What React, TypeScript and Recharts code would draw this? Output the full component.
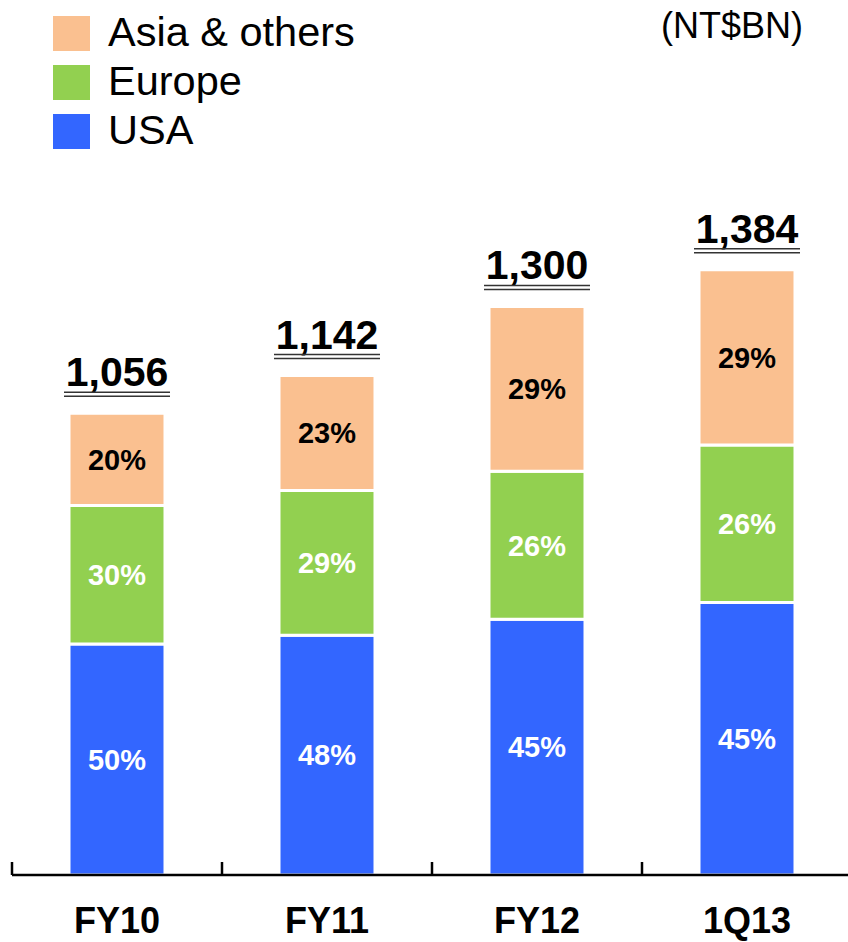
import { BarChart, Bar, XAxis, YAxis, LabelList } from "recharts";

const categories = ["FY10", "FY11", "FY12", "1Q13"];
const usaValues = [528, 548, 585, 623];
const europeValues = [317, 331, 338, 360];
const asiaValues = [211, 263, 377, 401];
const usaShares = ["50%", "48%", "45%", "45%"];
const europeShares = ["30%", "29%", "26%", "26%"];
const asiaShares = ["20%", "23%", "29%", "29%"];
const totalLabels = ["1,056", "1,142", "1,300", "1,384"];

const legendNames = ["Asia & others", "Europe", "USA"];
const legendColors = ["#FAC090", "#92D050", "#3366FF"];

const FONT = '"Liberation Sans", Arial, sans-serif';
const BAND = 210;

const data = categories.map((c, i) => ({
  name: c,
  usa: usaValues[i],
  europe: europeValues[i],
  asia: asiaValues[i],
  usaPct: usaShares[i],
  europePct: europeShares[i],
  asiaPct: asiaShares[i],
  total: totalLabels[i],
}));

const CategoryTick = ({ x, y, payload }: any) => (
  <g>
    <line x1={x - BAND / 2} x2={x - BAND / 2} y1={y - 13} y2={y} stroke="#000" strokeWidth={2.5} />
    <text x={x} y={y + 58} textAnchor="middle" fontFamily={FONT} fontSize={36} fontWeight={700} fill="#000">
      {payload.value}
    </text>
  </g>
);

const renderTotal = ({ x, y, width, value }: any) => {
  const cx = x + width / 2;
  return (
    <g>
      <text x={cx} y={y - 27} textAnchor="middle" fontFamily={FONT} fontSize={41} fontWeight={700} fill="#000">
        {value}
      </text>
      <line x1={cx - 53} x2={cx + 53} y1={y - 21} y2={y - 21} stroke="#333" strokeWidth={1.5} />
      <line x1={cx - 53} x2={cx + 53} y1={y - 17} y2={y - 17} stroke="#333" strokeWidth={1.5} />
    </g>
  );
};

const pctStyle = { fontFamily: FONT, fontSize: 29, fontWeight: 700 };

export default function App() {
  return (
    <div style={{ position: "absolute", left: 0, top: 0, width: 848, height: 942, overflow: "hidden", background: "#fff" }}>
      <div style={{ position: "absolute", left: 53, top: 9, fontFamily: FONT }}>
        {legendNames.map((n, i) => (
          <div key={n} style={{ display: "flex", alignItems: "center", height: 49 }}>
            <div style={{ width: 37, height: 35, background: legendColors[i], marginRight: 18 }} />
            <span style={{ fontSize: 41.5, color: "#000", lineHeight: "42px", marginTop: -4 }}>{n}</span>
          </div>
        ))}
      </div>
      <div style={{ position: "absolute", right: 45, top: 5, fontFamily: FONT, fontSize: 36, color: "#000" }}>
        (NT$BN)
      </div>
      <BarChart width={852} height={942} data={data} margin={{ top: 219, right: 0, bottom: 0, left: 12 }}>
        <YAxis hide domain={[0, 1500]} />
        <XAxis
          dataKey="name"
          height={67}
          tickLine={false}
          tickSize={0}
          tickMargin={0}
          axisLine={{ stroke: "#000", strokeWidth: 2.5 }}
          tick={<CategoryTick />}
          interval={0}
        />
        <Bar dataKey="usa" stackId="a" fill="#3366FF" stroke="#fff" strokeWidth={3} barSize={96} isAnimationActive={false}>
          <LabelList dataKey="usaPct" position="center" fill="#fff" style={pctStyle} />
        </Bar>
        <Bar dataKey="europe" stackId="a" fill="#92D050" stroke="#fff" strokeWidth={3} barSize={96} isAnimationActive={false}>
          <LabelList dataKey="europePct" position="center" fill="#fff" style={pctStyle} />
        </Bar>
        <Bar dataKey="asia" stackId="a" fill="#FAC090" stroke="#fff" strokeWidth={3} barSize={96} isAnimationActive={false}>
          <LabelList dataKey="asiaPct" position="center" fill="#000" style={pctStyle} />
          <LabelList dataKey="total" content={renderTotal} />
        </Bar>
      </BarChart>
    </div>
  );
}
